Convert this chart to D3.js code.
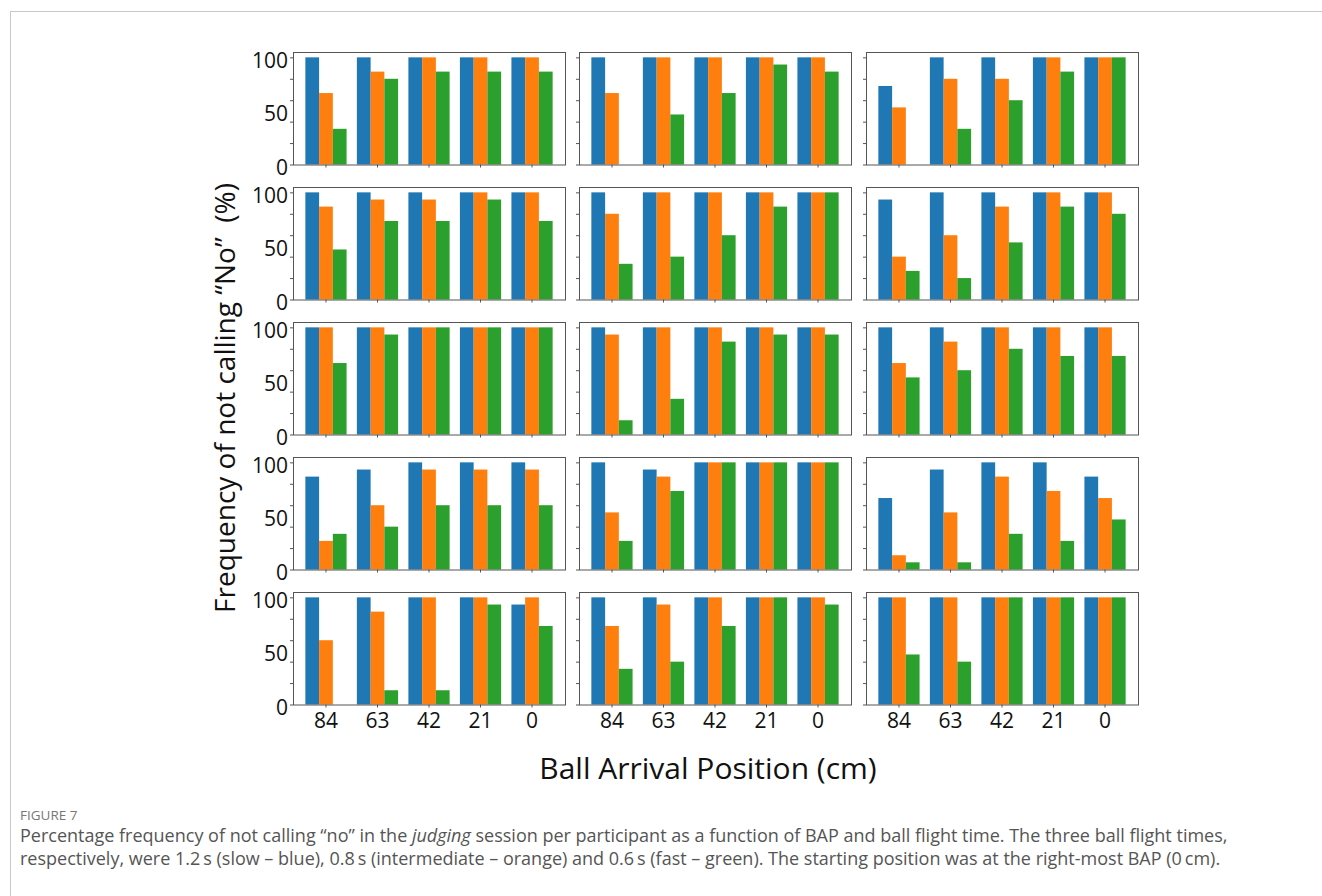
<!DOCTYPE html>
<html>
<head>
  <style type="text/css">
    body { margin: 0; background: #fff; }
    svg { display: block; font-family: "Open Sans", sans-serif; }
    .frame { fill: none; stroke: #555; stroke-width: 1px; }
    .tick line { stroke: #555; }
  </style>
</head>
<body>
<svg></svg>
<script src="https://d3js.org/d3.v7.min.js"></script>
<script>
    var width = 1322;
    var height = 896;

    /* data: 15 panels (row by row), 5 ball arrival positions each */
    var positions = ['84', '63', '42', '21', '0'];
    var series = ['slow', 'intermediate', 'fast'];
    var colors = ['#1f77b4', '#ff7f0e', '#2ca02c'];
    var yTickValues = [0, 20, 40, 60, 80, 100];
    var yLabels = [0, 50, 100];

    var slowVals = [
      [100, 100, 100, 100, 100], [100, 100, 100, 100, 100], [73.3, 100, 100, 100, 100],
      [100, 100, 100, 100, 100], [100, 100, 100, 100, 100], [93.3, 100, 100, 100, 100],
      [100, 100, 100, 100, 100], [100, 100, 100, 100, 100], [100, 100, 100, 100, 100],
      [86.7, 93.3, 100, 100, 100], [100, 93.3, 100, 100, 100], [66.7, 93.3, 100, 100, 86.7],
      [100, 100, 100, 100, 93.3], [100, 100, 100, 100, 100], [100, 100, 100, 100, 100]
    ];
    var midVals = [
      [66.7, 86.7, 100, 100, 100], [66.7, 100, 100, 100, 100], [53.3, 80, 80, 100, 100],
      [86.7, 93.3, 93.3, 100, 100], [80, 100, 100, 100, 100], [40, 60, 86.7, 100, 100],
      [100, 100, 100, 100, 100], [93.3, 100, 100, 100, 100], [66.7, 86.7, 100, 100, 100],
      [26.7, 60, 93.3, 93.3, 93.3], [53.3, 86.7, 100, 100, 100], [13.3, 53.3, 86.7, 73.3, 66.7],
      [60, 86.7, 100, 100, 100], [73.3, 93.3, 100, 100, 100], [100, 100, 100, 100, 100]
    ];
    var fastVals = [
      [33.3, 80, 86.7, 86.7, 86.7], [0, 46.7, 66.7, 93.3, 86.7], [0, 33.3, 60, 86.7, 100],
      [46.7, 73.3, 73.3, 93.3, 73.3], [33.3, 40, 60, 86.7, 100], [26.7, 20, 53.3, 86.7, 80],
      [66.7, 93.3, 100, 100, 100], [13.3, 33.3, 86.7, 93.3, 93.3], [53.3, 60, 80, 73.3, 73.3],
      [33.3, 40, 60, 60, 60], [26.7, 73.3, 100, 100, 100], [6.7, 6.7, 33.3, 26.7, 46.7],
      [0, 13.3, 13.3, 93.3, 73.3], [33.3, 40, 73.3, 100, 93.3], [46.7, 40, 100, 100, 100]
    ];

    /* layout */
    var colLeft = [293, 579, 866];
    var rowTop = [52, 187, 322, 457, 592];
    var pw = 272, ph = 112.5;

    var svg = d3.select('svg')
      .attr('width', width)
      .attr('height', height);

    // page border lines
    svg.append('line').attr('x1', 10.5).attr('x2', 10.5).attr('y1', 11).attr('y2', height)
      .attr('stroke', '#c8c8c8');
    svg.append('line').attr('x1', 10).attr('x2', width).attr('y1', 11.5).attr('y2', 11.5)
      .attr('stroke', '#c8c8c8');

    var x0 = d3.scaleBand().domain(positions).range([0, pw])
      .paddingInner(0.2).paddingOuter(0.24);
    var x1 = d3.scaleBand().domain(series).range([0, x0.bandwidth()]);
    var y = d3.scaleLinear().domain([0, 105]).range([ph, 0]);
    var color = d3.scaleOrdinal().domain(series).range(colors);

    var panels = d3.range(15).map(function(i) {
      return {
        row: Math.floor(i / 3), col: i % 3,
        bars: positions.map(function(p, j) {
          return { pos: p, vals: [slowVals[i][j], midVals[i][j], fastVals[i][j]] };
        })
      };
    });

    var panel = svg.selectAll('g.panel')
      .data(panels)
      .enter()
      .append('g')
      .attr('class', 'panel')
      .attr('transform', function(d) { return 'translate(' + colLeft[d.col] + ',' + rowTop[d.row] + ')'; });

    panel.each(function(d) {
      var g = d3.select(this);

      var grp = g.selectAll('g.grp')
        .data(d.bars)
        .enter()
        .append('g')
        .attr('class', 'grp')
        .attr('transform', function(b) { return 'translate(' + x0(b.pos) + ',0)'; });

      grp.selectAll('rect')
        .data(function(b) { return b.vals.map(function(v, k) { return { s: series[k], v: v }; }); })
        .enter()
        .append('rect')
        .attr('x', function(e) { return x1(e.s); })
        .attr('width', x1.bandwidth())
        .attr('y', function(e) { return y(e.v); })
        .attr('height', function(e) { return ph - y(e.v); })
        .attr('fill', function(e) { return color(e.s); });

      var yAxis = g.append('g')
        .call(d3.axisLeft(y).tickValues(yTickValues).tickSize(3).tickFormat(''));
      yAxis.select('.domain').remove();

      var xAxis = g.append('g')
        .attr('transform', 'translate(0,' + ph + ')')
        .call(d3.axisBottom(x0).tickSize(3).tickPadding(6)
          .tickFormat(d.row === 4 ? null : ''));
      xAxis.select('.domain').remove();
      xAxis.selectAll('text')
        .attr('font-size', 21)
        .attr('font-family', '"Open Sans", sans-serif')
        .attr('fill', '#111');

      g.append('rect')
        .attr('class', 'frame')
        .attr('x', 0.5).attr('y', 0.5)
        .attr('width', pw).attr('height', ph);

      if (d.col === 0) {
        g.selectAll('text.ylab')
          .data(yLabels)
          .enter()
          .append('text')
          .attr('class', 'ylab')
          .attr('x', -5)
          .attr('y', function(v) { return y(v) + 3; })
          .attr('dy', '0.35em')
          .attr('text-anchor', 'end')
          .attr('font-size', 21)
          .attr('fill', '#111')
          .text(function(v) { return v; });
      }
    });

    // axis titles
    svg.append('text')
      .attr('transform', 'translate(235,398) rotate(-90)')
      .attr('text-anchor', 'middle')
      .attr('font-size', 28)
      .attr('fill', '#111')
      .text('Frequency of not calling \u201cNo\u201d\u00a0\u00a0(%)');

    svg.append('text')
      .attr('x', 708)
      .attr('y', 779)
      .attr('text-anchor', 'middle')
      .attr('font-size', 30)
      .attr('fill', '#111')
      .text('Ball Arrival Position (cm)');

    // caption
    svg.append('text')
      .attr('x', 20).attr('y', 820)
      .attr('font-size', 13.5)
      .attr('fill', '#777')
      .text('FIGURE 7');

    var cap1 = svg.append('text')
      .attr('x', 20).attr('y', 842)
      .attr('font-size', 18)
      .attr('fill', '#555');
    cap1.append('tspan').text('Percentage frequency of not calling \u201cno\u201d in the ');
    cap1.append('tspan').attr('font-style', 'italic').text('judging');
    cap1.append('tspan').text(' session per participant as a function of BAP and ball flight time. The three ball flight times,');

    svg.append('text')
      .attr('x', 20).attr('y', 865)
      .attr('font-size', 18)
      .attr('fill', '#555')
      .text('respectively, were 1.2\u2009s (slow \u2013 blue), 0.8\u2009s (intermediate \u2013 orange) and 0.6\u2009s (fast \u2013 green). The starting position was at the right-most BAP (0\u2009cm).');
  </script>
</body>
</html>
